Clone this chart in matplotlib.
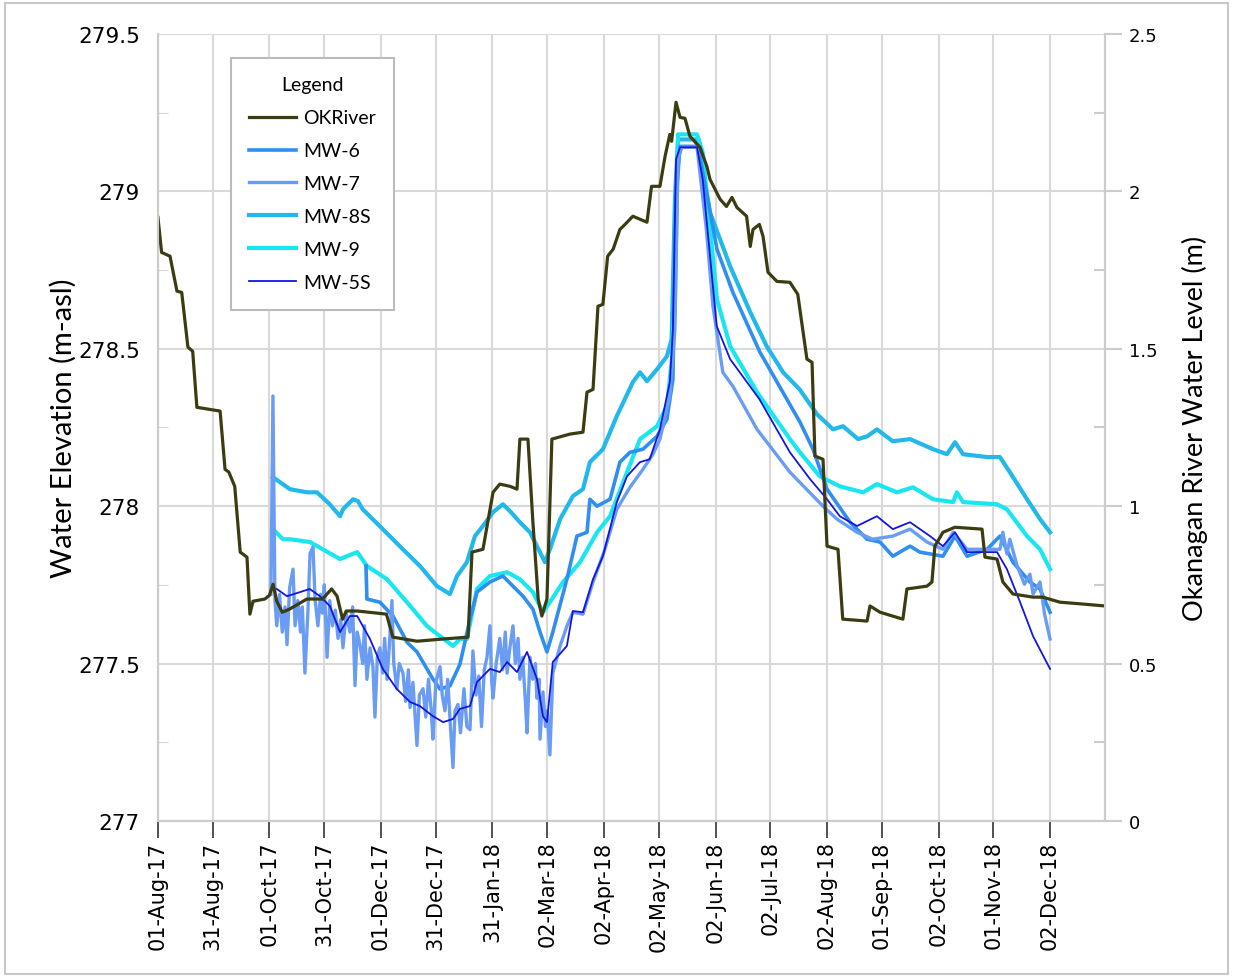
import datetime as dt
import numpy as np
import matplotlib
matplotlib.use("Agg")
import matplotlib.pyplot as plt
import matplotlib.dates as mdates
from matplotlib.patches import Rectangle
from matplotlib.ticker import MultipleLocator

# days counted from 01-Aug-2017
start = dt.datetime(2017, 8, 1)

ok_days = [0, 2, 6.6, 10.4, 13, 16.4, 19, 21.3, 34, 36.7, 38.8, 42, 45, 48.7, 50.3, 52, 58.5, 61, 63, 65, 68, 72,
           81.5, 90, 95, 98, 101, 103, 109, 125, 128.5, 141.7, 156, 169.6, 171.8, 177.8, 183.3, 187, 192.6, 196.4,
           198, 202.4, 205, 208, 210, 212.8, 215.5, 225.4, 232.5, 234.7, 238, 240.7, 243.4, 246, 249, 252.7, 255.5,
           259.8, 267.5, 270, 274.6, 277.4, 280, 281, 283.4, 285.6, 288.3, 291, 296.5, 300.3, 302, 307.5, 311, 314,
           316.7, 322, 324, 325.5, 329, 331, 333.7, 338.6, 345.7, 350, 355, 357.8, 359.4, 363.8, 366, 372, 374.6,
           387.9, 389.5, 395, 407.5, 409.7, 420.7, 423.4, 425, 429.4, 436, 450.8, 452.4, 459, 462.2, 467.7, 478.7,
           484, 493.4, 506, 518]
ok_level = [1.917, 1.806, 1.794, 1.683, 1.679, 1.505, 1.492, 1.314, 1.302, 1.117, 1.108, 1.063, 0.854, 0.838, 0.657,
            0.698, 0.705, 0.717, 0.752, 0.698, 0.663, 0.673, 0.705, 0.705, 0.737, 0.714, 0.641, 0.667, 0.667, 0.657,
            0.584, 0.571, 0.578, 0.584, 0.854, 0.863, 1.044, 1.070, 1.063, 1.054, 1.213, 1.213, 0.959, 0.705, 0.651,
            0.705, 1.213, 1.229, 1.235, 1.362, 1.371, 1.635, 1.641, 1.794, 1.816, 1.879, 1.895, 1.921, 1.902, 2.016,
            2.016, 2.111, 2.181, 2.159, 2.283, 2.235, 2.232, 2.175, 2.140, 2.079, 2.038, 1.975, 1.952, 1.981, 1.949,
            1.921, 1.825, 1.879, 1.895, 1.857, 1.743, 1.714, 1.711, 1.673, 1.467, 1.457, 1.159, 1.149, 0.873, 0.863,
            0.641, 0.635, 0.683, 0.663, 0.641, 0.737, 0.746, 0.759, 0.873, 0.917, 0.933, 0.927, 0.838, 0.832, 0.759,
            0.721, 0.711, 0.711, 0.695, 0.689, 0.683]

mw6_days = [113.8, 114.3, 121.4, 128.6, 136.2, 141.7, 150.4, 154.3, 159.7, 165.2, 170.7, 174.5, 181.6, 188.7, 194.2,
            199.7, 205.1, 209, 212.8, 216, 223.7, 229.2, 234.7, 236.3, 240.2, 247.3, 252.7, 258.2, 265.3, 273,
            278.4, 281.7, 283.4, 285.6, 295.4, 305.8, 314.5, 329.3, 344, 351.2, 358.3, 366, 378.6, 387.9, 395, 402,
            411.4, 416.8, 429.4, 436, 442.6, 453.5, 460.6, 467.7, 477, 482.5, 488]
mw6_elev = [277.810, 277.705, 277.695, 277.651, 277.568, 277.537, 277.451, 277.419, 277.429, 277.498, 277.641,
            277.727, 277.759, 277.778, 277.746, 277.714, 277.673, 277.600, 277.537, 277.600, 277.768, 277.905,
            277.917, 278.022, 278.000, 278.022, 278.140, 278.171, 278.181, 278.222, 278.276, 278.403, 278.975,
            279.143, 279.143, 278.816, 278.679, 278.489, 278.340, 278.267, 278.181, 278.054, 277.949, 277.895,
            277.886, 277.841, 277.873, 277.854, 277.841, 277.905, 277.841, 277.863, 277.905, 277.822, 277.759,
            277.737, 277.663]

mw7_days = [61.8, 62.9, 64, 65, 66.5, 68, 69.5, 70.6, 72, 73.9, 75, 76.5, 78, 79, 80.4, 82, 83.2, 84.8, 86, 87.5,
            89, 90, 91, 92.5, 94, 95.5, 97, 98.5, 100, 101.2, 103, 105, 106.5, 107.8, 109, 110.5, 112, 113, 114.3,
            116, 117.6, 118.7, 120, 121.4, 123, 124, 125.3, 126.5, 128, 129, 130.7, 132, 134, 135.5, 137, 137.9,
            139.5, 141.7, 143, 145, 146.5, 148, 149.5, 150.4, 152, 154.3, 155.5, 157, 158.5, 160, 161.4, 162.5,
            164.1, 165.5, 167.4, 169, 170.7, 172.3, 174, 175.5, 177, 178.5, 180, 181.6, 182.5, 183.3, 185, 187,
            188.5, 190, 191, 192.5, 194.2, 195.5, 197, 198, 199.5, 201, 201.9, 203.5, 205, 206.5, 207.3, 208.5, 209,
            210.6, 212, 213, 214.4, 216, 220, 223.7, 227, 232.5, 238, 244.5, 251, 258.2, 265.3, 270.8, 274.6, 280,
            282.8, 284.5, 286.6, 294.9, 300, 303.6, 309, 314.5, 327.7, 345.7, 363.8, 371.4, 382.4, 391, 402, 411.4,
            420.7, 429.4, 435, 442.6, 453.5, 460.6, 462.2, 464.4, 466, 470, 474, 477, 478.7, 482.5, 485, 488]
mw7_elev = [277.72, 278.35, 277.70, 277.62, 277.72, 277.60, 277.68, 277.56, 277.74, 277.80, 277.62, 277.70, 277.60,
            277.68, 277.47, 277.66, 277.85, 277.87, 277.70, 277.62, 277.72, 277.66, 277.75, 277.52, 277.70, 277.62,
            277.67, 277.58, 277.64, 277.55, 277.66, 277.60, 277.68, 277.43, 277.60, 277.56, 277.50, 277.62, 277.45,
            277.55, 277.49, 277.33, 277.52, 277.55, 277.47, 277.58, 277.45, 277.55, 277.70, 277.50, 277.42, 277.50,
            277.47, 277.38, 277.48, 277.36, 277.44, 277.24, 277.40, 277.42, 277.33, 277.45, 277.35, 277.26, 277.44,
            277.49, 277.40, 277.35, 277.45, 277.30, 277.17, 277.35, 277.37, 277.28, 277.42, 277.30, 277.29, 277.54,
            277.40, 277.46, 277.30, 277.48, 277.52, 277.62, 277.45, 277.39, 277.50, 277.58, 277.48, 277.60, 277.47,
            277.55, 277.62, 277.50, 277.58, 277.45, 277.52, 277.38, 277.28, 277.52, 277.45, 277.50, 277.39, 277.45,
            277.26, 277.41, 277.30, 277.35, 277.21, 277.47, 277.556, 277.619, 277.663, 277.657, 277.759, 277.863,
            277.990, 278.060, 278.117, 278.165, 278.213, 278.349, 278.562, 279.102, 279.140, 279.140, 278.879,
            278.635, 278.425, 278.381, 278.244, 278.108, 278.000, 277.959, 277.917, 277.895, 277.905, 277.927,
            277.886, 277.863, 277.917, 277.863, 277.863, 277.863, 277.917, 277.848, 277.895, 277.810, 277.752,
            277.784, 277.721, 277.759, 277.657, 277.578]

mw8s_days = [62.9, 72.2, 81.5, 87, 94, 99.6, 101.2, 106.7, 109.4, 112, 123, 134, 143.3, 152.6, 159.7, 163.6, 169,
             173.4, 177.8, 183.3, 188.7, 192.6, 198, 203.5, 211.7, 214.4, 220, 227, 232.5, 236.3, 243.4, 251, 259.8,
             263.7, 267.5, 273, 278.4, 281, 282.8, 284.5, 295.4, 302, 313, 324, 333, 342, 351, 360.5, 369.3, 374.7,
             383, 388, 393.3, 402, 411.4, 424, 431.6, 436, 440.4, 453.5, 460.6, 466, 475.4, 482.5, 488]
mw8s_elev = [278.092, 278.054, 278.044, 278.044, 278.006, 277.968, 277.990, 278.022, 278.016, 277.990, 277.927,
             277.863, 277.810, 277.746, 277.721, 277.778, 277.822, 277.905, 277.937, 277.981, 278.006, 277.984,
             277.949, 277.917, 277.822, 277.863, 277.959, 278.032, 278.054, 278.140, 278.181, 278.286, 278.394,
             278.425, 278.397, 278.435, 278.476, 278.530, 278.975, 279.165, 279.165, 278.933, 278.762, 278.616,
             278.508, 278.425, 278.371, 278.292, 278.244, 278.254, 278.213, 278.222, 278.244, 278.206, 278.213,
             278.181, 278.165, 278.203, 278.165, 278.156, 278.156, 278.108, 278.022, 277.959, 277.917]

mw9_days = [62.9, 68.4, 72.2, 83.2, 99.6, 109, 114.3, 125.3, 136.2, 147.2, 154.3, 161.4, 165.2, 169, 174.5, 181.6,
            191, 198, 205.1, 210.6, 214.4, 221.6, 230.9, 240.2, 247.3, 256.6, 263.7, 273, 278.4, 281, 282.8, 284.5,
            294.9, 298, 305.8, 313, 327.7, 345.7, 351.2, 362, 373, 385.7, 393.3, 404.3, 413, 424, 435, 437, 440.4,
            459, 464.4, 475.4, 482.5, 488]
mw9_elev = [277.927, 277.895, 277.895, 277.886, 277.832, 277.854, 277.810, 277.768, 277.695, 277.619, 277.587,
            277.556, 277.578, 277.578, 277.737, 277.778, 277.790, 277.768, 277.727, 277.663, 277.695, 277.759,
            277.822, 277.917, 277.968, 278.108, 278.213, 278.254, 278.317, 278.457, 278.657, 279.181, 279.181,
            279.124, 278.657, 278.508, 278.362, 278.213, 278.171, 278.095, 278.063, 278.044, 278.070, 278.044,
            278.060, 278.022, 278.013, 278.044, 278.013, 278.006, 277.990, 277.905, 277.863, 277.800]

mw5s_days = [65, 70.6, 77.7, 83, 88.6, 94, 99.6, 105, 109, 116, 123, 130.7, 137.9, 143.3, 150.4, 156, 161.4, 165.2,
             170.7, 174.5, 181.6, 187, 191, 196.4, 201.9, 207.3, 210.6, 212.8, 216, 223.7, 227, 232.5, 238, 243.4,
             251, 256.6, 263.7, 269, 274.6, 280, 281.7, 283.4, 285.6, 294.9, 298, 305.7, 313, 329, 345.7, 356.7, 366,
             373, 382.4, 393.3, 402, 411.4, 422.3, 429.4, 436, 442.6, 459, 464.4, 471.6, 478.7, 488]
mw5s_elev = [277.737, 277.714, 277.727, 277.737, 277.714, 277.683, 277.600, 277.651, 277.651, 277.578, 277.483,
             277.419, 277.378, 277.365, 277.333, 277.314, 277.324, 277.356, 277.365, 277.441, 277.483, 277.473,
             277.505, 277.473, 277.537, 277.451, 277.333, 277.314, 277.505, 277.556, 277.667, 277.663, 277.768,
             277.841, 278.013, 278.095, 278.140, 278.149, 278.244, 278.394, 278.562, 279.102, 279.140, 279.140,
             279.038, 278.571, 278.467, 278.340, 278.171, 278.086, 278.022, 277.968, 277.937, 277.968, 277.927,
             277.949, 277.905, 277.873, 277.917, 277.854, 277.854, 277.800, 277.695, 277.587, 277.483]

tick_dates = ["2017-08-01", "2017-08-31", "2017-10-01", "2017-10-31", "2017-12-01", "2017-12-31", "2018-01-31",
              "2018-03-02", "2018-04-02", "2018-05-02", "2018-06-02", "2018-07-02", "2018-08-02", "2018-09-01",
              "2018-10-02", "2018-11-01", "2018-12-02"]
tick_labels = ["01-Aug-17", "31-Aug-17", "01-Oct-17", "31-Oct-17", "01-Dec-17", "31-Dec-17", "31-Jan-18",
               "02-Mar-18", "02-Apr-18", "02-May-18", "02-Jun-18", "02-Jul-18", "02-Aug-18", "01-Sep-18",
               "02-Oct-18", "01-Nov-18", "02-Dec-18"]


def to_x(days):
    return mdates.date2num(start) + np.array(days)


fig = plt.figure(figsize=(12.33, 9.79), dpi=100)
ax = fig.add_axes([0.1281, 0.1604, 0.7680, 0.8039])
ax2 = ax.twinx()

ax.plot(to_x(mw8s_days), mw8s_elev, color="#22b8ea", lw=3.0, label="MW-8S", zorder=3)
ax.plot(to_x(mw9_days), mw9_elev, color="#1ae6f0", lw=3.0, label="MW-9", zorder=3)
ax.plot(to_x(mw6_days), mw6_elev, color="#2f8ff0", lw=2.6, label="MW-6", zorder=3)
ax.plot(to_x(mw7_days), mw7_elev, color="#6a9cf4", lw=2.4, label="MW-7", zorder=4)
ax.plot(to_x(mw5s_days), mw5s_elev, color="#1515e0", lw=1.3, label="MW-5S", zorder=5)
ax2.plot(to_x(ok_days), ok_level, color="#3c3c12", lw=2.3, label="OKRiver")

x0 = mdates.date2num(start)
ax.set_xlim(x0, x0 + 518)
ax.set_ylim(277, 279.5)
ax2.set_ylim(0, 2.5)

ax.set_xticks([mdates.date2num(dt.datetime.strptime(d, "%Y-%m-%d")) for d in tick_dates])
ax.set_xticklabels(tick_labels, rotation=90, fontsize=15, family="DejaVu Sans")
ax.tick_params(axis="x", direction="out", length=12, width=1.2, color="#333333", pad=2)

ax.yaxis.set_major_locator(MultipleLocator(0.5))
ax.yaxis.set_minor_locator(MultipleLocator(0.25))
ax.set_yticklabels([f"{v:g}" for v in ax.get_yticks()], fontsize=15.5,
                   family=["Liberation Sans Narrow", "DejaVu Sans"])
ax.tick_params(axis="y", which="major", length=0, pad=13)
ax.tick_params(axis="y", which="minor", direction="in", length=7, color="#cccccc")

ax2.yaxis.set_minor_locator(MultipleLocator(0.25))
ax2.set_yticks([0, 0.5, 1, 1.5, 2, 2.5])
ax2.set_yticklabels(["0", "0.5", "1", "1.5", "2", "2.5"], fontsize=13, family="DejaVu Sans")
ax2.tick_params(axis="y", which="major", direction="out", length=12, color="#cccccc", width=1.5, pad=5)
ax2.tick_params(axis="y", which="minor", direction="in", length=8, color="#cccccc", width=1.5)

ax.grid(True, which="major", color="#d9d9d9", lw=1.5)
ax.set_axisbelow(True)
for a in (ax, ax2):
    a.spines["top"].set_visible(False)
    for s in ("left", "right", "bottom"):
        a.spines[s].set_color("#cccccc")
        a.spines[s].set_linewidth(1.5)

ax.set_ylabel("Water Elevation (m-asl)", fontsize=21, family="Lato", labelpad=1)
ax2.set_ylabel("Okanagan River Water Level (m)", fontsize=19.5, family="Lato", labelpad=18)

handles = [ax2.get_lines()[0]] + [ax.get_lines()[i] for i in (2, 3, 0, 1, 4)]
leg = ax.legend(handles, [h.get_label() for h in handles], title="Legend", loc="upper left",
                bbox_to_anchor=(0.077, 0.9695), borderaxespad=0, fancybox=False, framealpha=1,
                edgecolor="#bbbbbb", prop={"family": "Lato", "size": 14},
                title_fontproperties={"family": "Lato", "size": 14},
                handlelength=2.4, labelspacing=0.82, borderpad=0.95, handletextpad=0.35)
leg.get_frame().set_linewidth(1.5)
leg.set_zorder(10)

fig.patches.append(Rectangle((0.004, 0.004), 0.992, 0.992, transform=fig.transFigure, fill=False,
                             edgecolor="#c8c8c8", lw=1.5))

fig.savefig("out.png", dpi=100)
